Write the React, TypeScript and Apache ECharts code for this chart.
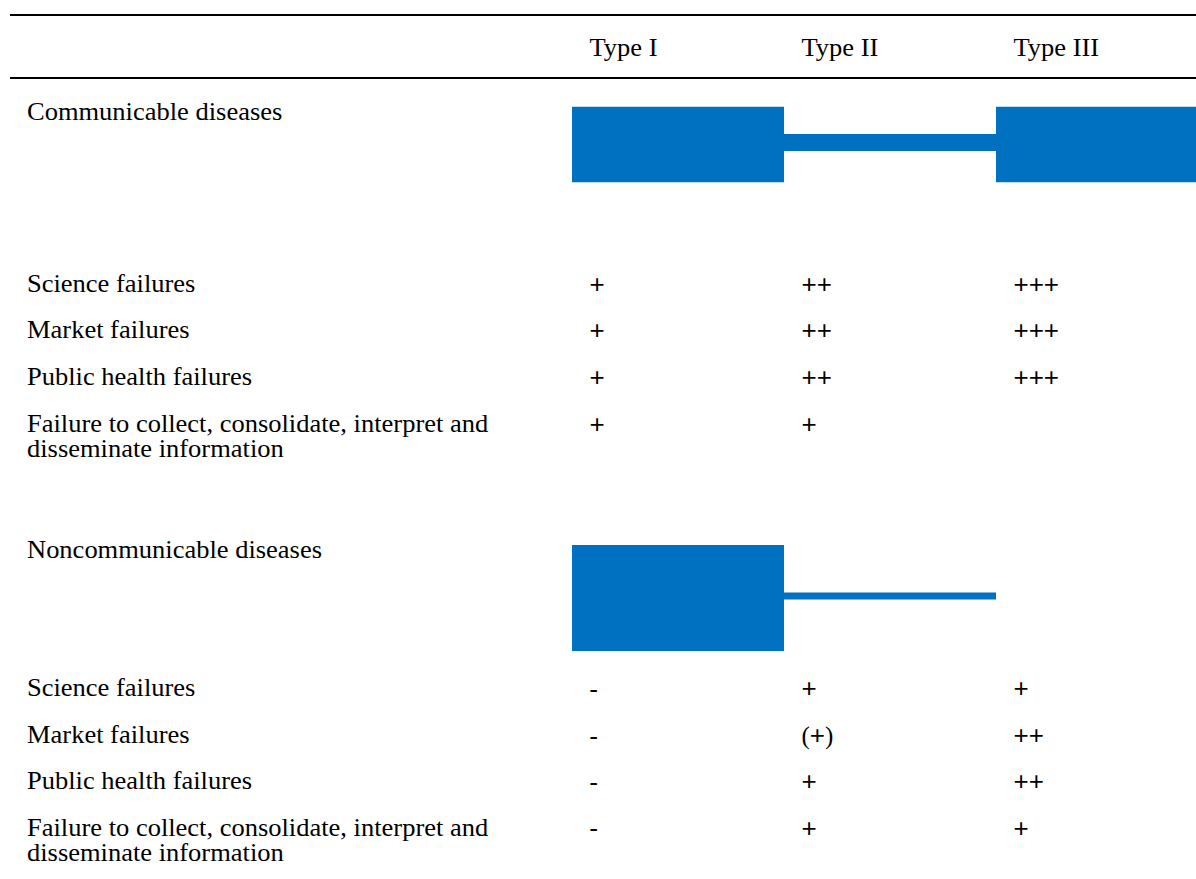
import React, { useEffect, useRef } from 'react';
import * as echarts from 'echarts';

// ---------- data ----------
const types = ['Type I', 'Type II', 'Type III'];
const groups = ['Communicable diseases', 'Noncommunicable diseases'];
const failureCategories = [
  'Science failures',
  'Market failures',
  'Public health failures',
  'Failure to collect, consolidate, interpret and\ndisseminate information',
];
const communicableRatings = [
  ['+', '++', '+++'],
  ['+', '++', '+++'],
  ['+', '++', '+++'],
  ['+', '+', ''],
];
const noncommunicableRatings = [
  ['-', '+', '+'],
  ['-', '(+)', '++'],
  ['-', '+', '++'],
  ['-', '+', '+'],
];
// relative disease burden by country type (band thickness)
const communicableBurden = [71, 16, 71];
const noncommunicableBurden = [100, 6.5, 0];

// ---------- layout ----------
const W = 1196;
const H = 879;
const GRID_LEFT = 572;
const COL_W = 212;
const LABEL_X = 27;
const TEXT_PAD = 17.5;
const HEADER_Y = 48;
const RULES_Y = [15, 78];
const RULE_X0 = 10;
const GROUP_LABEL_Y = [112, 550];
const BAND_CENTER_Y = [144.5, 598];
const CONNECTOR_SHIFT = -2;
const ROW_Y = [
  [284, 330, 377, 423.5],
  [688, 735, 781, 827.5],
];
const PX_PER_UNIT = 1.06;
const LINE_H = 25;
const FONT_FAMILY = '"Liberation Serif", "Times New Roman", serif';
const SANS_FAMILY = '"Liberation Sans", Arial, sans-serif';
const FONT_SIZE = 25;
const SCALE_X = 1.06;
const PLUS_SIZE = 26;
const BLUE = '#0070C0';
const TEXT_COLOR = '#000000';

type TextItem = { col: number | null; y: number; text: string; rating?: boolean };

function buildTextItems(): TextItem[] {
  const items: TextItem[] = [];
  types.forEach((t, i) => items.push({ col: i, y: HEADER_Y, text: t }));
  const ratingSets = [communicableRatings, noncommunicableRatings];
  groups.forEach((g, gi) => {
    items.push({ col: null, y: GROUP_LABEL_Y[gi], text: g });
    failureCategories.forEach((cat, ri) => {
      items.push({ col: null, y: ROW_Y[gi][ri], text: cat });
      ratingSets[gi][ri].forEach((r, ci) => {
        if (r) items.push({ col: ci, y: ROW_Y[gi][ri], text: r, rating: true });
      });
    });
  });
  return items;
}

export default function App() {
  const ref = useRef<HTMLDivElement>(null);

  useEffect(() => {
    if (!ref.current) return;
    const chart = echarts.init(ref.current, undefined, { renderer: 'svg', width: W, height: H });

    const textItems = buildTextItems();
    const burdenSets = [communicableBurden, noncommunicableBurden];
    const bandData: number[][] = [];
    burdenSets.forEach((set, gi) => {
      set.forEach((v, ti) => {
        if (v > 0) bandData.push([ti, gi, v]);
      });
    });

    const option: any = {
      animation: false,
      backgroundColor: '#ffffff',
      grid: { left: GRID_LEFT, right: 0, top: 0, bottom: 0 },
      // the last column runs past the right edge of the page
      xAxis: { type: 'value', min: 0, max: (W - GRID_LEFT) / COL_W, show: false },
      yAxis: { type: 'value', min: 0, max: H, inverse: true, show: false },
      graphic: RULES_Y.map((y) => ({
        type: 'line',
        shape: { x1: RULE_X0, y1: y, x2: W, y2: y },
        style: { stroke: '#000000', lineWidth: 2 },
        silent: true,
      })),
      series: [
        {
          type: 'custom',
          name: 'burden',
          data: bandData,
          clip: false,
          renderItem: (params: any, api: any) => {
            const t = api.value(0);
            const g = api.value(1);
            const v = api.value(2);
            const cy = BAND_CENTER_Y[g] + (t === 1 ? CONNECTOR_SHIFT : 0);
            const p0 = api.coord([t, cy]);
            const p1 = api.coord([t + 1, cy]);
            const h = api.size([0, v * PX_PER_UNIT])[1];
            return {
              type: 'rect',
              shape: { x: p0[0], y: p0[1] - h / 2, width: p1[0] - p0[0], height: h },
              style: { fill: BLUE },
            };
          },
        },
        {
          type: 'custom',
          name: 'texts',
          data: textItems.map((d, i) => [d.col === null ? 0 : d.col, d.y, i]),
          clip: false,
          renderItem: (params: any, api: any) => {
            const item = textItems[params.dataIndex];
            const p = api.coord([item.col === null ? 0 : item.col, item.y]);
            const x = item.col === null ? LABEL_X : p[0] + TEXT_PAD;
            const text = item.rating ? item.text.replace(/\+/g, '{p|+}') : item.text;
            return {
              type: 'text',
              x,
              y: p[1] - LINE_H / 2,
              scaleX: item.rating ? 1 : SCALE_X,
              style: {
                text,
                fill: TEXT_COLOR,
                fontFamily: FONT_FAMILY,
                fontSize: FONT_SIZE,
                lineHeight: LINE_H,
                align: 'left',
                verticalAlign: 'top',
                rich: {
                  p: {
                    fontFamily: SANS_FAMILY,
                    fontSize: PLUS_SIZE,
                    lineHeight: LINE_H,
                    fill: TEXT_COLOR,
                  },
                },
              },
            };
          },
        },
      ],
    };
    chart.setOption(option);
    return () => chart.dispose();
  }, []);

  return (
    <div
      ref={ref}
      style={{ position: 'fixed', left: 0, top: 0, width: W, height: H, background: '#ffffff' }}
    />
  );
}
